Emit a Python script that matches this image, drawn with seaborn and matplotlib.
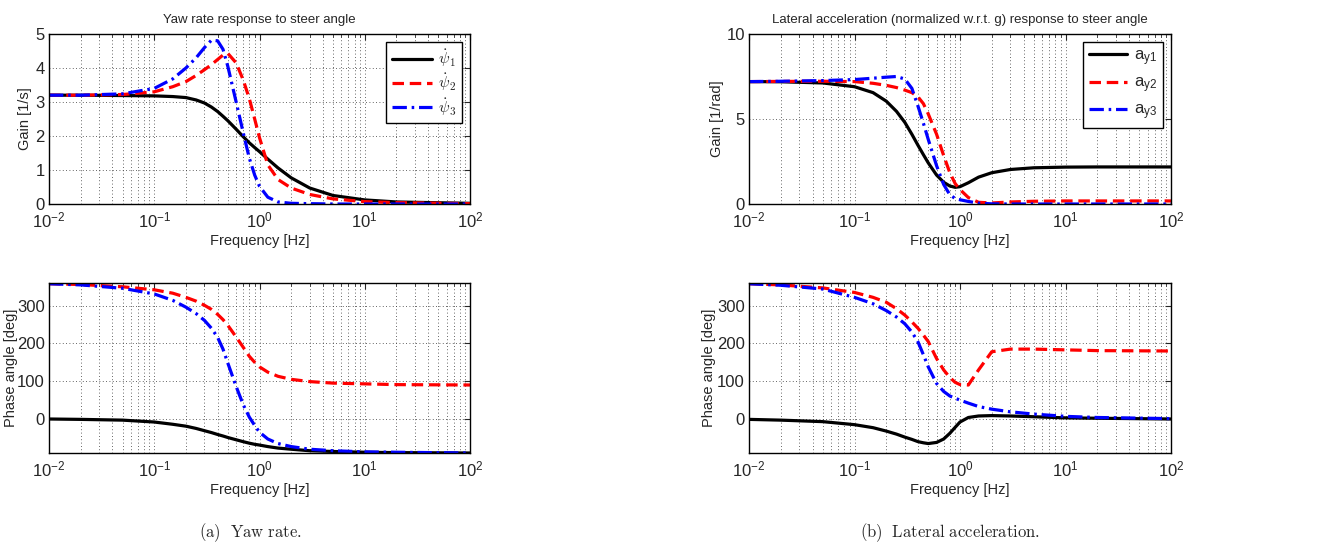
import numpy as np
import matplotlib
matplotlib.use("Agg")
import matplotlib.pyplot as plt
import seaborn as sns
from matplotlib.ticker import LogLocator, NullFormatter
from matplotlib.font_manager import FontProperties

sns.set_style("white")
plt.rcParams['font.family'] = ['Liberation Sans', 'DejaVu Sans']
plt.rcParams['mathtext.fontset'] = 'cm'

# frequency points [Hz]
freq = [0.01, 0.02, 0.05, 0.1, 0.15, 0.2, 0.25, 0.3, 0.35, 0.4, 0.45, 0.5, 0.6,
        0.7, 0.8, 0.9, 1.0, 1.2, 1.5, 2, 3, 5, 10, 20, 100]

# yaw rate gain [1/s]
yaw_gain_1 = [3.20, 3.20, 3.19, 3.18, 3.16, 3.13, 3.06, 2.97, 2.85, 2.72, 2.58, 2.45, 2.20,
              1.98, 1.80, 1.66, 1.54, 1.32, 1.06, 0.77, 0.47, 0.25, 0.12, 0.06, 0.02]
yaw_gain_2 = [3.20, 3.20, 3.22, 3.30, 3.45, 3.60, 3.78, 3.95, 4.10, 4.25, 4.38, 4.43, 4.15,
              3.65, 3.10, 2.50, 1.95, 1.15, 0.72, 0.47, 0.28, 0.15, 0.07, 0.04, 0.01]
yaw_gain_3 = [3.20, 3.20, 3.24, 3.40, 3.68, 4.00, 4.30, 4.60, 4.82, 4.80, 4.55, 4.05, 3.00,
              2.10, 1.35, 0.85, 0.52, 0.20, 0.06, 0.02, 0.01, 0.0, 0.0, 0.0, 0.0]

# yaw rate phase [deg]
yaw_phase_1 = [0, -1, -3, -8, -14, -19, -25, -31, -36, -41, -45, -49, -55,
               -60, -64, -67, -69, -73, -77, -80, -84, -86, -88, -89, -90]
yaw_phase_2 = [358, 356, 350, 342, 333, 322, 312, 301, 290, 277, 263, 248, 217,
               190, 166, 150, 138, 124, 113, 105, 99, 95, 93, 91, 90]
yaw_phase_3 = [358, 355, 346, 331, 314, 296, 279, 261, 240, 216, 185, 148, 86,
               38, 5, -17, -35, -53, -65, -73, -80, -84, -87, -88, -90]

# lateral acceleration gain [1/rad]
lat_gain_1 = [7.20, 7.19, 7.12, 6.90, 6.55, 6.05, 5.45, 4.80, 4.10, 3.45, 2.90, 2.42, 1.70,
              1.28, 1.06, 0.98, 1.02, 1.25, 1.58, 1.84, 2.03, 2.13, 2.17, 2.18, 2.18]
lat_gain_2 = [7.20, 7.21, 7.22, 7.20, 7.10, 6.98, 6.85, 6.70, 6.55, 6.30, 5.90, 5.30, 4.10,
              2.85, 1.85, 1.20, 0.85, 0.38, 0.10, 0.06, 0.12, 0.16, 0.18, 0.18, 0.18]
lat_gain_3 = [7.20, 7.22, 7.26, 7.32, 7.40, 7.46, 7.50, 7.35, 6.80, 5.75, 4.75, 3.80, 2.25,
              1.15, 0.55, 0.32, 0.25, 0.15, 0.05, 0.01, 0.0, 0.0, 0.0, 0.0, 0.0]

# lateral acceleration phase [deg]
lat_phase_1 = [-1, -3, -7, -15, -23, -32, -40, -48, -54, -60, -63, -65, -62,
               -53, -38, -22, -8, 4, 8, 9, 8, 6, 3, 2, 0]
lat_phase_2 = [358, 355, 347, 335, 322, 309, 292, 275, 257, 240, 222, 205, 160,
               130, 110, 97, 91, 90, 130, 178, 185, 185, 183, 181, 180]
lat_phase_3 = [358, 354, 344, 322, 305, 287, 270, 252, 230, 204, 170, 138, 94,
               73, 61, 55, 50, 42, 33, 26, 19, 13, 7, 4, 1]

yaw_labels = [r'$\dot{\psi}_1$', r'$\dot{\psi}_2$', r'$\dot{\psi}_3$']
lat_labels = [r'$\mathregular{a_{y1}}$', r'$\mathregular{a_{y2}}$', r'$\mathregular{a_{y3}}$']

styles = [dict(color='black', linestyle='-'),
          dict(color='red', linestyle=(0, (3.6, 1.8))),
          dict(color='blue', linestyle=(0, (4.5, 1.5, 0.8, 1.5)))]

fig = plt.figure(figsize=(13.44, 5.57), dpi=100)
W, H = 1344, 557


def make_ax(x0, y0, x1, y1):
    return fig.add_axes([x0 / W, 1 - y1 / H, (x1 - x0) / W, (y1 - y0) / H])


ax_yg = make_ax(49, 34, 470, 204)
ax_lg = make_ax(749, 34, 1171, 204)
ax_yp = make_ax(49, 283, 470, 453)
ax_lp = make_ax(749, 283, 1171, 453)

# (axes, series, legend labels, y label, y label x position in axes fraction)
panels = [
    (ax_yg, [yaw_gain_1, yaw_gain_2, yaw_gain_3], yaw_labels, 'Gain [1/s]', -0.040),
    (ax_lg, [lat_gain_1, lat_gain_2, lat_gain_3], lat_labels, 'Gain [1/rad]', -0.059),
    (ax_yp, [yaw_phase_1, yaw_phase_2, yaw_phase_3], None, 'Phase angle [deg]', -0.074),
    (ax_lp, [lat_phase_1, lat_phase_2, lat_phase_3], None, 'Phase angle [deg]', -0.078),
]

grid_ls = (0, (1, 3))
for ax, series, labels, ylab, ylx in panels:
    for i, vals in enumerate(series):
        sns.lineplot(x=freq, y=vals, ax=ax, lw=2.3, sort=False,
                     label=labels[i] if labels else None, **styles[i])
    ax.set_xscale('log')
    ax.set_xlim(0.01, 100)
    ax.xaxis.set_major_locator(LogLocator(base=10, numticks=10))
    ax.xaxis.set_minor_locator(LogLocator(base=10, subs=np.arange(2, 10), numticks=20))
    ax.xaxis.set_minor_formatter(NullFormatter())
    ax.grid(True, which='major', color='#333333', linestyle=grid_ls, lw=0.6)
    ax.grid(True, which='minor', axis='x', color='#333333', linestyle=grid_ls, lw=0.6)
    ax.tick_params(which='both', direction='in', top=True, right=True, labelsize=12)
    ax.tick_params(axis='y', pad=3)
    ax.tick_params(axis='x', pad=5)
    ax.tick_params(which='major', length=4)
    ax.tick_params(which='minor', length=2)
    for sp in ax.spines.values():
        sp.set_color('black')
        sp.set_linewidth(1.0)
    ax.set_xlabel('Frequency [Hz]', fontsize=10.5, labelpad=2)
    ax.set_ylabel(ylab, fontsize=10.5)
    ax.yaxis.set_label_coords(ylx, 0.5)

ax_yg.set_ylim(0, 5)
ax_yg.set_yticks([0, 1, 2, 3, 4, 5])
ax_lg.set_ylim(0, 10)
ax_lg.set_yticks([0, 5, 10])
for ax in (ax_yp, ax_lp):
    ax.set_ylim(-90, 360)
    ax.set_yticks([0, 100, 200, 300])

ax_yg.set_title('Yaw rate response to steer angle', fontsize=9.5, pad=8)
ax_lg.set_title('Lateral acceleration (normalized w.r.t. g) response to steer angle',
                fontsize=9.5, pad=8)

leg_style = dict(loc='upper right', frameon=True, fancybox=False, edgecolor='black',
                 borderaxespad=0.5, handletextpad=0.4, borderpad=0.35)
leg1 = ax_yg.legend(prop=FontProperties(size=11.5, math_fontfamily='cm'),
                    handlelength=2.5, labelspacing=0.15, **leg_style)
leg2 = ax_lg.legend(prop=FontProperties(family='Liberation Sans', size=12),
                    handlelength=2.3, labelspacing=0.45, **leg_style)
for leg in (leg1, leg2):
    leg.get_frame().set_linewidth(1.0)
    leg.get_frame().set_alpha(1)

fig.text(250 / W, 1 - 533 / H, r'$\mathrm{(a)\ \ Yaw\ rate.}$', ha='center', va='center',
         fontsize=12)
fig.text(950 / W, 1 - 533 / H, r'$\mathrm{(b)\ \ Lateral\ acceleration.}$', ha='center',
         va='center', fontsize=12)

fig.savefig('out.png', dpi=100)
